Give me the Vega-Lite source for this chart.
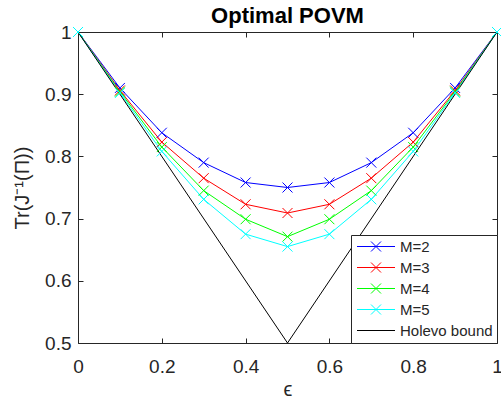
{
  "$schema": "https://vega.github.io/schema/vega-lite/v6.json",
  "width": 419,
  "height": 311,
  "autosize": {"type": "none"},
  "padding": {"left": 78, "top": 32, "right": 4, "bottom": 60},
  "background": "white",
  "title": {"text": "Optimal POVM", "fontSize": 22, "font": "Liberation Sans", "fontWeight": "bold", "color": "black", "offset": -5},
  "config": {
    "view": {"stroke": null},
    "font": "Liberation Sans",
    "axis": {
      "grid": false,
      "labelFlush": false,
      "domainColor": "#262626",
      "tickColor": "#262626",
      "labelColor": "#262626",
      "titleColor": "#262626",
      "labelFont": "Liberation Sans",
      "titleFont": "Liberation Sans",
      "labelFontSize": 19,
      "titleFontSize": 20,
      "titleFontWeight": "normal",
      "tickSize": -5,
      "domainWidth": 1,
      "tickWidth": 1
    }
  },
  "data": {
    "values": [
      {"series": "M=2", "eps": 0.0, "v": 1.0},
      {"series": "M=2", "eps": 0.1, "v": 0.910},
      {"series": "M=2", "eps": 0.2, "v": 0.838},
      {"series": "M=2", "eps": 0.3, "v": 0.790},
      {"series": "M=2", "eps": 0.4, "v": 0.758},
      {"series": "M=2", "eps": 0.5, "v": 0.750},
      {"series": "M=2", "eps": 0.6, "v": 0.758},
      {"series": "M=2", "eps": 0.7, "v": 0.790},
      {"series": "M=2", "eps": 0.8, "v": 0.838},
      {"series": "M=2", "eps": 0.9, "v": 0.910},
      {"series": "M=2", "eps": 1.0, "v": 1.0},
      {"series": "M=3", "eps": 0.0, "v": 1.0},
      {"series": "M=3", "eps": 0.1, "v": 0.906},
      {"series": "M=3", "eps": 0.2, "v": 0.823},
      {"series": "M=3", "eps": 0.3, "v": 0.765},
      {"series": "M=3", "eps": 0.4, "v": 0.723},
      {"series": "M=3", "eps": 0.5, "v": 0.709},
      {"series": "M=3", "eps": 0.6, "v": 0.723},
      {"series": "M=3", "eps": 0.7, "v": 0.765},
      {"series": "M=3", "eps": 0.8, "v": 0.823},
      {"series": "M=3", "eps": 0.9, "v": 0.906},
      {"series": "M=3", "eps": 1.0, "v": 1.0},
      {"series": "M=4", "eps": 0.0, "v": 1.0},
      {"series": "M=4", "eps": 0.1, "v": 0.904},
      {"series": "M=4", "eps": 0.2, "v": 0.815},
      {"series": "M=4", "eps": 0.3, "v": 0.745},
      {"series": "M=4", "eps": 0.4, "v": 0.699},
      {"series": "M=4", "eps": 0.5, "v": 0.671},
      {"series": "M=4", "eps": 0.6, "v": 0.699},
      {"series": "M=4", "eps": 0.7, "v": 0.745},
      {"series": "M=4", "eps": 0.8, "v": 0.815},
      {"series": "M=4", "eps": 0.9, "v": 0.904},
      {"series": "M=4", "eps": 1.0, "v": 1.0},
      {"series": "M=5", "eps": 0.0, "v": 1.0},
      {"series": "M=5", "eps": 0.1, "v": 0.902},
      {"series": "M=5", "eps": 0.2, "v": 0.808},
      {"series": "M=5", "eps": 0.3, "v": 0.731},
      {"series": "M=5", "eps": 0.4, "v": 0.675},
      {"series": "M=5", "eps": 0.5, "v": 0.655},
      {"series": "M=5", "eps": 0.6, "v": 0.675},
      {"series": "M=5", "eps": 0.7, "v": 0.731},
      {"series": "M=5", "eps": 0.8, "v": 0.808},
      {"series": "M=5", "eps": 0.9, "v": 0.902},
      {"series": "M=5", "eps": 1.0, "v": 1.0},
      {"series": "Holevo bound", "eps": 0.0, "v": 1.0},
      {"series": "Holevo bound", "eps": 0.5, "v": 0.5},
      {"series": "Holevo bound", "eps": 1.0, "v": 1.0}
    ]
  },
  "resolve": {"axis": {"x": "independent", "y": "independent"}},
  "layer": [
    {
      "mark": {"type": "line", "strokeWidth": 1, "clip": true},
      "encoding": {
        "x": {"field": "eps", "type": "quantitative", "scale": {"domain": [0, 1], "nice": false, "zero": false},
              "axis": {"orient": "bottom", "values": [0, 0.2, 0.4, 0.6, 0.8, 1], "format": ".1~f", "title": "ϵ", "labelPadding": 19, "titlePadding": 3}},
        "y": {"field": "v", "type": "quantitative", "scale": {"domain": [0.5, 1], "nice": false, "zero": false},
              "axis": {"orient": "left", "values": [0.5, 0.6, 0.7, 0.8, 0.9, 1], "format": ".1~f", "title": "Tr(J⁻¹(Π))", "labelPadding": 12, "titlePadding": 12}},
        "color": {"field": "series", "type": "nominal",
                  "scale": {"domain": ["M=2", "M=3", "M=4", "M=5", "Holevo bound"], "range": ["#0000ff", "#ff0000", "#00ff00", "#00ffff", "#000000"]},
                  "legend": {
                    "title": null, "orient": "bottom-right", "offset": 0,
                    "strokeColor": "#262626", "fillColor": "white", "padding": 4,
                    "labelFont": "Liberation Sans", "labelFontSize": 15, "labelColor": "#262626",
                    "symbolSize": 100, "symbolStrokeWidth": 1, "rowPadding": 5, "labelOffset": 30,
                    "encode": {"symbols": {"update": {
                      "shape": {"signal": "datum.value === 'Holevo bound' ? 'M-1.1,0L6.5,0' : 'M-1.1,0L6.5,0M1.7,-1L3.7,1M1.7,1L3.7,-1'"},
                      "fill": {"value": "transparent"},
                      "stroke": {"scale": "color", "field": "value"},
                      "opacity": {"value": 1},
                      "strokeWidth": {"value": 1}
                    }}}
                  }},
        "order": {"field": "eps", "type": "quantitative"}
      }
    },
    {
      "transform": [{"filter": "datum.series !== 'Holevo bound'"}],
      "mark": {"type": "point", "shape": "M-1,-1L1,1M-1,1L1,-1", "filled": false, "size": 100, "strokeWidth": 1, "opacity": 1},
      "encoding": {
        "x": {"field": "eps", "type": "quantitative", "scale": {"domain": [0, 1], "nice": false, "zero": false},
              "axis": {"orient": "top", "values": [0, 0.2, 0.4, 0.6, 0.8, 1], "labels": false, "title": null, "minExtent": 0, "maxExtent": 0}},
        "y": {"field": "v", "type": "quantitative", "scale": {"domain": [0.5, 1], "nice": false, "zero": false},
              "axis": {"orient": "right", "values": [0.5, 0.6, 0.7, 0.8, 0.9, 1], "labels": false, "title": null, "minExtent": 0, "maxExtent": 0}},
        "color": {"field": "series", "type": "nominal", "legend": null}
      }
    }
  ]
}
